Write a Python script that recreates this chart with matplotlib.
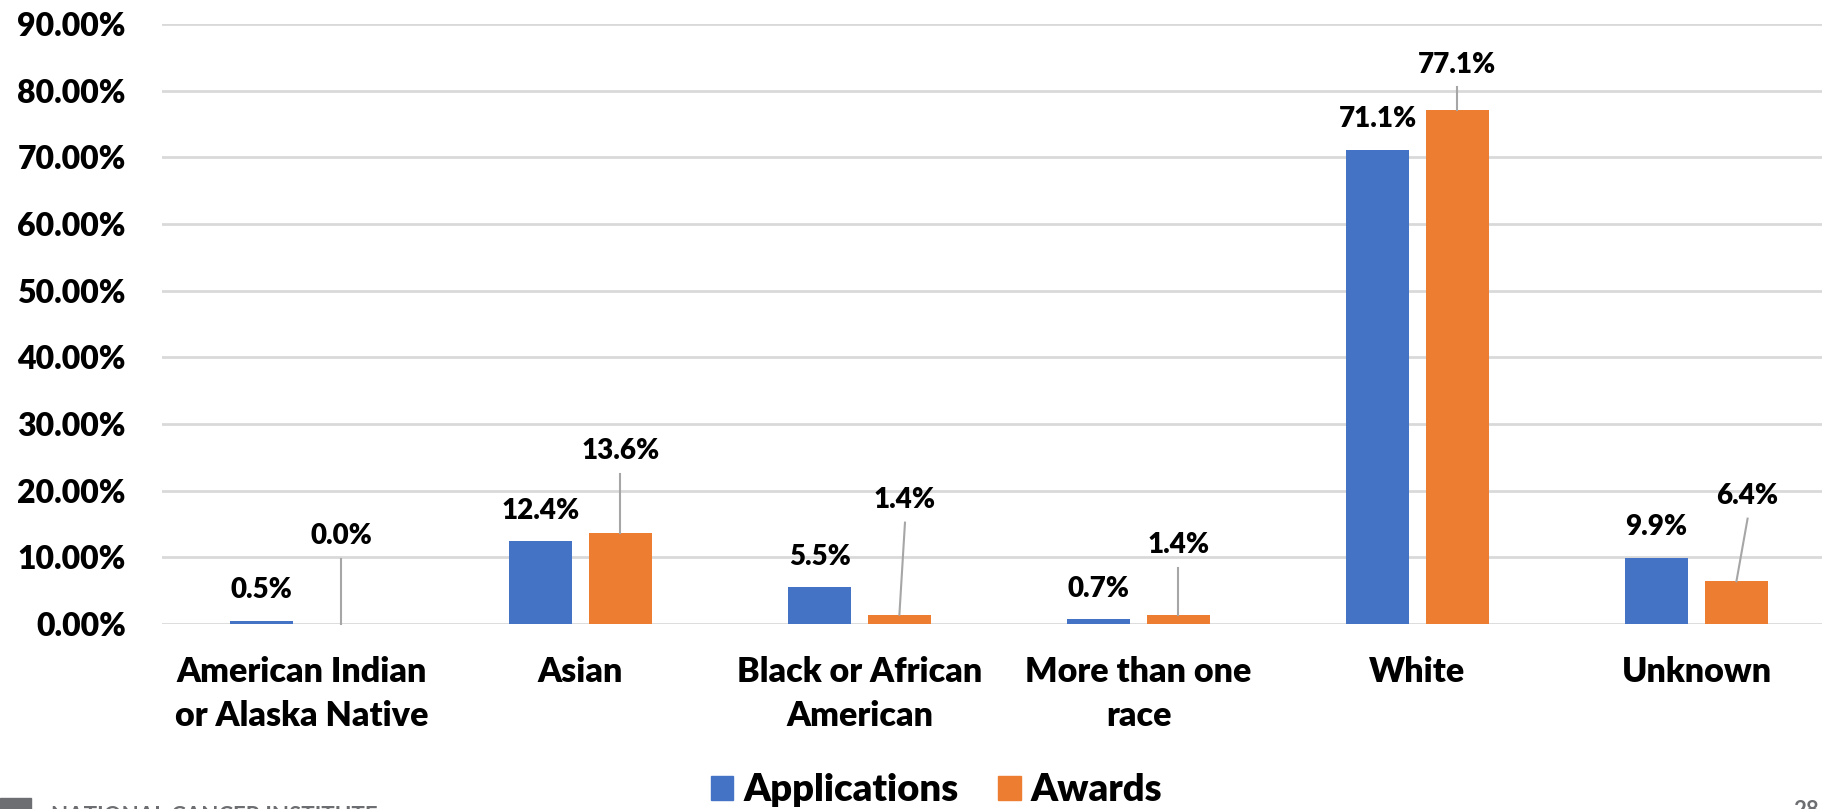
import numpy as np
import matplotlib
matplotlib.use("Agg")
import matplotlib.pyplot as plt

# data (percent)
categories = ["American Indian\nor Alaska Native", "Asian", "Black or African\nAmerican",
              "More than one\nrace", "White", "Unknown"]
applications = [0.5, 12.4, 5.5, 0.7, 71.1, 9.9]
awards = [0.0, 13.6, 1.4, 1.4, 77.1, 6.4]
yticks = [0, 10, 20, 30, 40, 50, 60, 70, 80, 90]

# where the awards callouts sit (layout only)
awd_lbl_y = [13.2, 25.9, 18.6, 11.8, 83.9, 19.2]
awd_lbl_dx = [0.0, 0.0, 0.02, 0.0, 0.0, 0.04]

blue = "#4472C4"
orange = "#ED7D31"
grid_col = "#D9D9D9"
wt = 'heavy'

plt.rcParams['font.family'] = ['Lato', 'DejaVu Sans']
plt.rcParams['font.weight'] = wt

fig = plt.figure(figsize=(18.22, 8.09), dpi=100)
ax = fig.add_axes([0.0889, 0.2287, 0.9188, 0.7417])

x = np.arange(len(categories))
w = 0.225
off = 0.143
ax.bar(x - off, applications, w, color=blue, zorder=3)
ax.bar(x + off, awards, w, color=orange, zorder=3)

ax.set_ylim(0, 90)
ax.set_xlim(-0.5, len(categories) - 0.5)
ax.set_yticks(yticks)
ax.set_yticklabels([f"{v:.2f}%" for v in yticks], fontsize=23, fontweight=wt)
ax.set_xticks(x)
ax.set_xticklabels(categories, fontsize=24.5, fontweight=wt, linespacing=1.45)
ax.tick_params(axis='y', length=0, pad=26)
ax.tick_params(axis='x', length=0, pad=23)
ax.grid(axis='y', color=grid_col, linewidth=2, zorder=0)
for s in ax.spines.values():
    s.set_visible(False)

# application labels just above the bars
for xi, v in zip(x, applications):
    ax.annotate(f"{v:.1f}%", (xi - off, v), xytext=(0, 22), textcoords='offset points',
                ha='center', va='center', fontsize=20, fontweight=wt)

# award labels with leader lines
for xi, v, ly, dx in zip(x, awards, awd_lbl_y, awd_lbl_dx):
    lx = xi + off + dx
    ax.text(lx, ly, f"{v:.1f}%", ha='center', va='center', fontsize=20, fontweight=wt,
            clip_on=False)
    ax.plot([lx, xi + off], [ly - 3.4, v], color="#A6A6A6", linewidth=1.5, zorder=4,
            clip_on=False)

# legend
handles = [plt.Rectangle((0, 0), 1, 1, color=blue), plt.Rectangle((0, 0), 1, 1, color=orange)]
fig.legend(handles, ["Applications", "Awards"], loc='center', bbox_to_anchor=(0.514, 0.023),
           ncol=2, frameon=False, prop={'size': 27.5, 'weight': wt},
           handlelength=0.6, handleheight=0.6, handletextpad=0.25, columnspacing=1.05)

# slide footer, mostly cut off at the bottom edge
fig.patches.append(plt.Rectangle((0, -0.02), 0.017, 0.034, transform=fig.transFigure,
                                 color="#6D6E71"))
fig.text(0.028, 0.004, "NATIONAL CANCER INSTITUTE", fontsize=16, color="#6D6E71",
         va='top', ha='left', fontweight='bold')
fig.text(0.984, 0.011, "28", fontsize=16, color="#6D6E71", va='top', ha='left',
         fontweight='bold')

fig.savefig("out.png", dpi=100)
